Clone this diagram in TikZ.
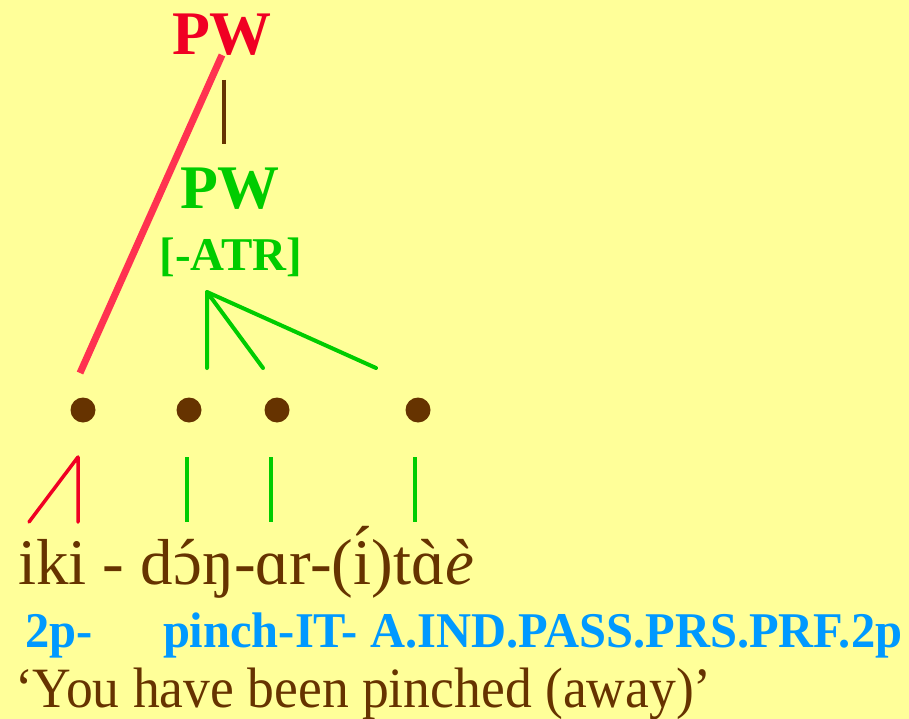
\documentclass[tikz,border=0pt]{standalone}
\usepackage{graphicx}
\usepackage{fontspec}
\setmainfont{Liberation Serif}
\newfontfamily\transfont[FakeStretch=0.94]{Liberation Serif}
\newfontfamily\bluefont[FakeStretch=0.97]{Liberation Serif}
\newcommand\ovacc[3][0pt]{\ooalign{#2\cr\hidewidth\raisebox{#1}{#3}\hidewidth\cr}}
\definecolor{bgyellow}{RGB}{255,255,153}
\definecolor{pwred}{RGB}{240,0,35}
\definecolor{linered}{RGB}{255,50,80}
\definecolor{mybrown}{RGB}{102,51,0}
\definecolor{mygreen}{RGB}{0,204,0}
\definecolor{myblue}{RGB}{0,153,255}
\tikzset{
  txt/.style={inner sep=0pt, outer sep=0pt},
  pwlabel/.style={txt, anchor=base, font=\fontsize{62}{70}\selectfont\bfseries},
  atrlabel/.style={txt, anchor=base, font=\fontsize{47}{52}\selectfont\bfseries},
  dotnode/.style={circle, fill=mybrown, minimum size=25pt, inner sep=0pt},
  greenline/.style={mygreen, line width=4pt, line cap=round, line join=round},
  redthin/.style={pwred, line width=3.5pt, line cap=round, line join=round},
  glosstext/.style={txt, anchor=base west, text=mybrown, font=\fontsize{65}{70}\selectfont},
  bluetext/.style={txt, anchor=base west, text=myblue, font=\bluefont\fontsize{50}{56}\selectfont\bfseries},
  transtext/.style={txt, anchor=base west, text=mybrown, font=\transfont\fontsize{57}{64}\selectfont}
}
\begin{document}
\begin{tikzpicture}[x=1pt, y=-1pt]
\fill[bgyellow] (0,0) rectangle (909,719);
\useasboundingbox (0,0) rectangle (909,719);

% top labels
\node[pwlabel, text=pwred] (pwtop) at (222,55) {PW};
\node[pwlabel, text=mygreen] (pwmid) at (230,209) {PW};
\node[atrlabel, text=mygreen] (atr) at (231,270) {[-ATR]};

% connectors between levels
\coordinate (redtop) at (222,55);
\coordinate (redbot) at (80,373);
\draw[linered, line width=7pt] (redtop) -- (redbot);

\coordinate (brtop) at (224,80);
\coordinate (brbot) at (224,144);
\draw[mybrown, line width=4pt] (brtop) -- (brbot);

\coordinate (apex) at (207,292);
\coordinate (g1) at (207,368);
\coordinate (g2) at (263,368);
\coordinate (g3) at (376,368);
\draw[greenline] (g1) -- (apex) -- (g2);
\draw[greenline] (apex) -- (g3);

% dots
\node[dotnode] (d1) at (83,410) {};
\node[dotnode] (d2) at (189,410) {};
\node[dotnode] (d3) at (277,410) {};
\node[dotnode] (d4) at (418,410) {};

% lower lines
\coordinate (ra) at (78,457);
\coordinate (rb) at (78,522);
\coordinate (rc) at (29,522);
\draw[redthin] (rc) -- (ra) -- (rb);

\coordinate (l2a) at (187,457);
\coordinate (l2b) at (187,522);
\coordinate (l3a) at (271,457);
\coordinate (l3b) at (271,522);
\coordinate (l4a) at (415,457);
\coordinate (l4b) at (415,522);
\draw[greenline, line cap=butt] (l2a) -- (l2b);
\draw[greenline, line cap=butt] (l3a) -- (l3b);
\draw[greenline, line cap=butt] (l4a) -- (l4b);

% texts
\node[glosstext] (gloss) at (18,584) {iki - d\ovacc{ɔ}{´}ŋ-ɑr-(\ovacc[0.2em]{i}{´})t\ovacc{ɑ}{\reflectbox{´}}\textit{è}};
\node[bluetext] (b1) at (25,647) {2p-};
\node[bluetext] (b2) at (163,647) {pinch-IT- A.IND.PASS.PRS.PRF.2p};
\node[transtext] (tr) at (15,707) {‘You have been pinched (away)’};
\end{tikzpicture}
\end{document}
